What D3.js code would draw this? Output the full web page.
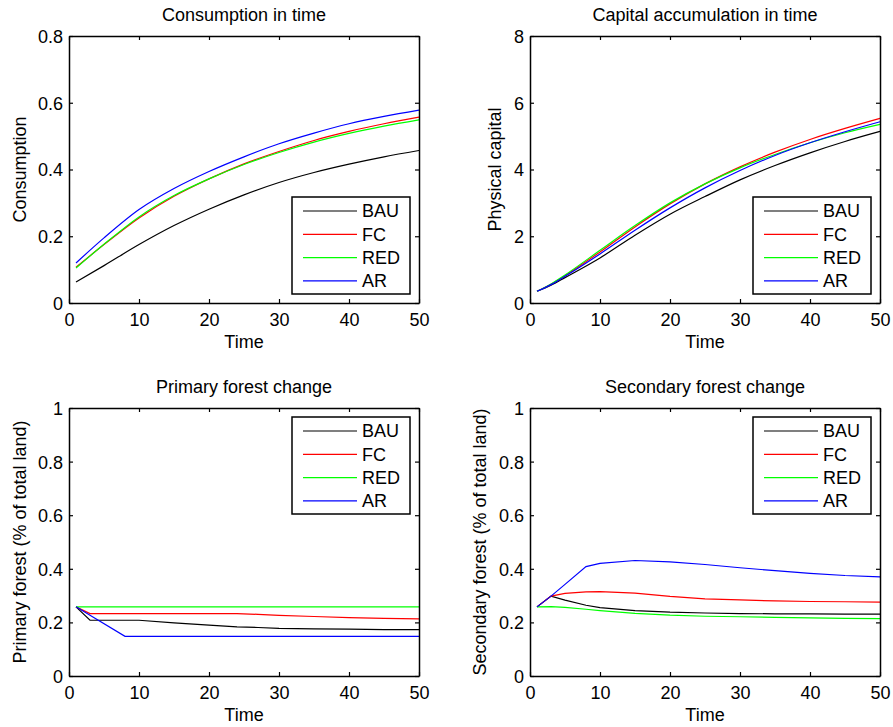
<!DOCTYPE html>
<html>
<head>
<meta charset="utf-8">
<script src="https://cdn.jsdelivr.net/npm/d3@7"></script>
<style>
  body { margin: 0; background: #fff; }
  text { font-family: "Liberation Sans", Arial, Helvetica, sans-serif; font-size: 18px; fill: #000; }
</style>
</head>
<body>
<div id="chart"></div>
<script>
// series names + colours (matlab style)
var names = ["BAU", "FC", "RED", "AR"];
var colors = ["#000000", "#ff0000", "#00ff00", "#0000ff"];

// consumption
var consTime = [1, 5, 10, 15, 20, 25, 30, 35, 40, 45, 50];
var consBAU = [0.063, 0.112, 0.175, 0.232, 0.281, 0.324, 0.361, 0.391, 0.416, 0.438, 0.457];
var consFC  = [0.107, 0.175, 0.255, 0.320, 0.372, 0.417, 0.454, 0.487, 0.514, 0.537, 0.557];
var consRED = [0.105, 0.176, 0.258, 0.322, 0.372, 0.415, 0.451, 0.482, 0.508, 0.530, 0.549];
var consAR  = [0.120, 0.195, 0.280, 0.343, 0.394, 0.438, 0.477, 0.509, 0.537, 0.559, 0.578];

// physical capital
var capTime = [1, 3, 5, 10, 15, 20, 25, 30, 35, 40, 45, 50];
var capBAU = [0.35, 0.53, 0.76, 1.35, 2.03, 2.66, 3.19, 3.69, 4.12, 4.50, 4.84, 5.14];
var capFC  = [0.35, 0.56, 0.82, 1.53, 2.28, 2.97, 3.57, 4.08, 4.52, 4.90, 5.23, 5.53];
var capRED = [0.35, 0.57, 0.84, 1.58, 2.32, 3.00, 3.57, 4.05, 4.45, 4.80, 5.10, 5.35];
var capAR  = [0.35, 0.55, 0.80, 1.47, 2.18, 2.85, 3.45, 3.97, 4.42, 4.80, 5.13, 5.43];

// primary forest
var primTime = [1, 3, 8, 10, 15, 20, 24, 27, 30, 35, 40, 45, 50];
var primBAU = [0.258, 0.208, 0.208, 0.208, 0.198, 0.190, 0.183, 0.181, 0.178, 0.176, 0.175, 0.173, 0.173];
var primFC  = [0.258, 0.233, 0.233, 0.233, 0.233, 0.233, 0.233, 0.230, 0.226, 0.222, 0.218, 0.215, 0.213];
var primRED = [0.258, 0.258, 0.258, 0.258, 0.258, 0.258, 0.258, 0.258, 0.258, 0.258, 0.258, 0.258, 0.258];
var primAR  = [0.258, 0.227, 0.148, 0.148, 0.148, 0.148, 0.148, 0.148, 0.148, 0.148, 0.148, 0.148, 0.148];

// secondary forest
var secTime = [1, 3, 5, 8, 10, 15, 20, 25, 30, 35, 40, 45, 50];
var secBAU = [0.258, 0.298, 0.283, 0.264, 0.255, 0.244, 0.238, 0.235, 0.233, 0.232, 0.232, 0.231, 0.231];
var secFC  = [0.258, 0.298, 0.308, 0.314, 0.315, 0.309, 0.297, 0.288, 0.284, 0.280, 0.278, 0.277, 0.276];
var secRED = [0.258, 0.259, 0.256, 0.249, 0.244, 0.234, 0.227, 0.223, 0.221, 0.219, 0.217, 0.215, 0.214];
var secAR  = [0.258, 0.298, 0.342, 0.408, 0.420, 0.431, 0.426, 0.416, 0.404, 0.393, 0.383, 0.375, 0.370];

var xTicks = [0, 10, 20, 30, 40, 50];

var svg = d3.select("#chart").append("svg")
  .attr("width", 893)
  .attr("height", 727);

var panels = [
  { left: 69, top: 36, bottom: 303, title: "Consumption in time", ylabel: "Consumption", labelX: 26,
    yMax: 0.8, yTicks: [0, 0.2, 0.4, 0.6, 0.8], time: consTime,
    series: [consBAU, consFC, consRED, consAR], curve: d3.curveMonotoneX, legend: "bottom" },
  { left: 530, top: 36, bottom: 303, title: "Capital accumulation in time", ylabel: "Physical capital", labelX: 501,
    yMax: 8, yTicks: [0, 2, 4, 6, 8], time: capTime,
    series: [capBAU, capFC, capRED, capAR], curve: d3.curveMonotoneX, legend: "bottom" },
  { left: 69, top: 408, bottom: 676, title: "Primary forest change", ylabel: "Primary forest (% of total land)", labelX: 26,
    yMax: 1, yTicks: [0, 0.2, 0.4, 0.6, 0.8, 1], time: primTime,
    series: [primBAU, primFC, primRED, primAR], curve: d3.curveLinear, legend: "top" },
  { left: 530, top: 408, bottom: 676, title: "Secondary forest change", ylabel: "Secondary forest (% of total land)", labelX: 486,
    yMax: 1, yTicks: [0, 0.2, 0.4, 0.6, 0.8, 1], time: secTime,
    series: [secBAU, secFC, secRED, secAR], curve: d3.curveLinear, legend: "top" }
];

var plotW = 350;
var tickLen = 4;

panels.forEach(function(p) {
  var g = svg.append("g").attr("transform", `translate(${p.left}, ${p.top})`);
  var h = p.bottom - p.top;

  var x = d3.scaleLinear().domain([0, 50]).range([0, plotW]);
  var y = d3.scaleLinear().domain([0, p.yMax]).range([h, 0]);

  // lines
  var line = d3.line()
    .x(function(d) { return x(d[0]); })
    .y(function(d) { return y(d[1]); })
    .curve(p.curve);

  p.series.forEach(function(vals, i) {
    var pts = p.time.map(function(t, j) { return [t, vals[j]]; });
    g.append("path")
      .attr("d", line(pts))
      .attr("fill", "none")
      .attr("stroke", colors[i])
      .attr("stroke-width", 1.2);
  });

  // axes, ticks inward, mirrored on top/right
  var fmt = function(d) { return d3.format("")(+d.toFixed(1)); };
  var bottomAxis = d3.axisBottom(x).tickValues(xTicks).tickSizeInner(-tickLen).tickSizeOuter(0).tickPadding(10);
  var leftAxis = d3.axisLeft(y).tickValues(p.yTicks).tickSizeInner(-tickLen).tickSizeOuter(0).tickPadding(10).tickFormat(fmt);
  var topAxis = d3.axisTop(x).tickValues(xTicks).tickSizeInner(-tickLen).tickSizeOuter(0).tickFormat("");
  var rightAxis = d3.axisRight(y).tickValues(p.yTicks).tickSizeInner(-tickLen).tickSizeOuter(0).tickFormat("");

  var ax = [
    g.append("g").attr("transform", `translate(0, ${h})`).call(bottomAxis),
    g.append("g").call(leftAxis),
    g.append("g").call(topAxis),
    g.append("g").attr("transform", `translate(${plotW}, 0)`).call(rightAxis)
  ];
  ax.forEach(function(a) {
    a.select(".domain").attr("stroke", "#000").attr("stroke-width", 1.5);
    a.selectAll(".tick line").attr("stroke", "#000").attr("stroke-width", 1.2);
    a.selectAll(".tick text").style("font-size", "18px").attr("fill", "#000");
  });
  ax[0].selectAll(".tick text").attr("dy", null).attr("y", 23).attr("dominant-baseline", "auto");
  ax[1].selectAll(".tick text").attr("x", -6).attr("dy", "0.36em");

  // title + labels
  g.append("text")
    .attr("x", plotW / 2)
    .attr("y", -15)
    .attr("text-anchor", "middle")
    .text(p.title);

  g.append("text")
    .attr("x", plotW / 2)
    .attr("y", h + 45)
    .attr("text-anchor", "middle")
    .text("Time");

  svg.append("text")
    .attr("transform", `translate(${p.labelX}, ${(p.top + p.bottom) / 2}) rotate(-90)`)
    .attr("text-anchor", "middle")
    .text(p.ylabel);

  // legend box
  var lw = 118, lh = 97;
  var lx = plotW - 9 - lw;
  var ly = p.legend == "top" ? 9 : h - 9 - lh;
  var lg = g.append("g").attr("transform", `translate(${lx}, ${ly})`);
  lg.append("rect")
    .attr("width", lw)
    .attr("height", lh)
    .attr("fill", "#fff")
    .attr("stroke", "#000")
    .attr("stroke-width", 1.5);
  names.forEach(function(n, i) {
    var ry = 14 + i * 23.3;
    lg.append("line")
      .attr("x1", 11).attr("x2", 65)
      .attr("y1", ry).attr("y2", ry)
      .attr("stroke", colors[i])
      .attr("stroke-width", 1.2);
    lg.append("text")
      .attr("x", 70)
      .attr("y", ry)
      .attr("dy", "0.36em")
      .text(n);
  });
});
</script>
</body>
</html>
